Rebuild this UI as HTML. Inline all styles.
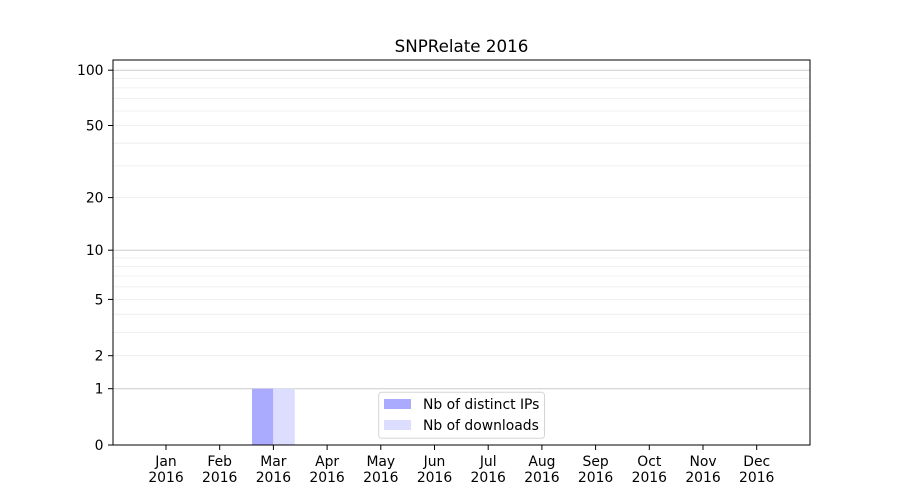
<!DOCTYPE html>
<html><head><style>body{margin:0;background:#fff}svg{display:block}</style></head><body>
<svg width="900" height="500" xmlns="http://www.w3.org/2000/svg" font-family="DejaVu Sans, Liberation Sans, sans-serif" font-size="13.9">
<rect width="900" height="500" fill="#fff"/>
<g stroke="#ebebeb" stroke-width="0.8">
<line x1="113" x2="810" y1="355.7" y2="355.7"/><line x1="113" x2="810" y1="332.4" y2="332.4"/><line x1="113" x2="810" y1="314.2" y2="314.2"/><line x1="113" x2="810" y1="299.4" y2="299.4"/><line x1="113" x2="810" y1="286.9" y2="286.9"/><line x1="113" x2="810" y1="276" y2="276"/><line x1="113" x2="810" y1="266.5" y2="266.5"/><line x1="113" x2="810" y1="257.9" y2="257.9"/>
<line x1="113" x2="810" y1="197.6" y2="197.6"/><line x1="113" x2="810" y1="165.9" y2="165.9"/><line x1="113" x2="810" y1="143.2" y2="143.2"/><line x1="113" x2="810" y1="125.5" y2="125.5"/><line x1="113" x2="810" y1="111" y2="111"/><line x1="113" x2="810" y1="98.6" y2="98.6"/><line x1="113" x2="810" y1="87.9" y2="87.9"/><line x1="113" x2="810" y1="78.5" y2="78.5"/>
</g>
<g stroke="#cccccc" stroke-width="1">
<line x1="113" x2="810" y1="388.7" y2="388.7"/><line x1="113" x2="810" y1="250.2" y2="250.2"/><line x1="113" x2="810" y1="70.2" y2="70.2"/>
</g>
<rect x="252" y="388.7" width="21.3" height="56.3" fill="#aaaaff"/>
<rect x="273.3" y="388.7" width="21.5" height="56.3" fill="#ddddff"/>
<rect x="113" y="60" width="697" height="385" fill="none" stroke="#000" stroke-width="1"/>
<g stroke="#000" stroke-width="1">
<line x1="108" x2="113" y1="445" y2="445"/><line x1="108" x2="113" y1="388.7" y2="388.7"/><line x1="108" x2="113" y1="355.7" y2="355.7"/><line x1="108" x2="113" y1="299.4" y2="299.4"/><line x1="108" x2="113" y1="250.2" y2="250.2"/><line x1="108" x2="113" y1="197.6" y2="197.6"/><line x1="108" x2="113" y1="125.5" y2="125.5"/><line x1="108" x2="113" y1="70.2" y2="70.2"/>
<line x1="166" x2="166" y1="445" y2="450"/><line x1="219.7" x2="219.7" y1="445" y2="450"/><line x1="273.4" x2="273.4" y1="445" y2="450"/><line x1="327.1" x2="327.1" y1="445" y2="450"/><line x1="380.8" x2="380.8" y1="445" y2="450"/><line x1="434.5" x2="434.5" y1="445" y2="450"/><line x1="488.2" x2="488.2" y1="445" y2="450"/><line x1="541.9" x2="541.9" y1="445" y2="450"/><line x1="595.6" x2="595.6" y1="445" y2="450"/><line x1="649.3" x2="649.3" y1="445" y2="450"/><line x1="703" x2="703" y1="445" y2="450"/><line x1="756.7" x2="756.7" y1="445" y2="450"/>
</g>
<g text-anchor="end" fill="#000">
<text x="103.5" y="450">0</text><text x="103.5" y="393.7">1</text><text x="103.5" y="360.7">2</text><text x="103.5" y="304.4">5</text><text x="103.5" y="255.2">10</text><text x="103.5" y="202.6">20</text><text x="103.5" y="130.5">50</text><text x="103.5" y="75.2">100</text>
</g>
<g text-anchor="middle" fill="#000">
<text x="166" y="466">Jan</text><text x="166" y="482">2016</text>
<text x="219.7" y="466">Feb</text><text x="219.7" y="482">2016</text>
<text x="273.4" y="466">Mar</text><text x="273.4" y="482">2016</text>
<text x="327.1" y="466">Apr</text><text x="327.1" y="482">2016</text>
<text x="380.8" y="466">May</text><text x="380.8" y="482">2016</text>
<text x="434.5" y="466">Jun</text><text x="434.5" y="482">2016</text>
<text x="488.2" y="466">Jul</text><text x="488.2" y="482">2016</text>
<text x="541.9" y="466">Aug</text><text x="541.9" y="482">2016</text>
<text x="595.6" y="466">Sep</text><text x="595.6" y="482">2016</text>
<text x="649.3" y="466">Oct</text><text x="649.3" y="482">2016</text>
<text x="703" y="466">Nov</text><text x="703" y="482">2016</text>
<text x="756.7" y="466">Dec</text><text x="756.7" y="482">2016</text>
<text x="461.5" y="52" font-size="16.7">SNPRelate 2016</text>
</g>
<rect x="378.7" y="392.3" width="165.8" height="46" rx="3" fill="#fff" fill-opacity="0.8" stroke="#d5d5d5"/>
<rect x="384" y="399" width="27" height="10" fill="#aaaaff"/>
<rect x="384" y="420" width="27" height="10" fill="#ddddff"/>
<text x="423" y="409" fill="#000">Nb of distinct IPs</text>
<text x="423" y="430" fill="#000">Nb of downloads</text>
</svg>
</body></html>
